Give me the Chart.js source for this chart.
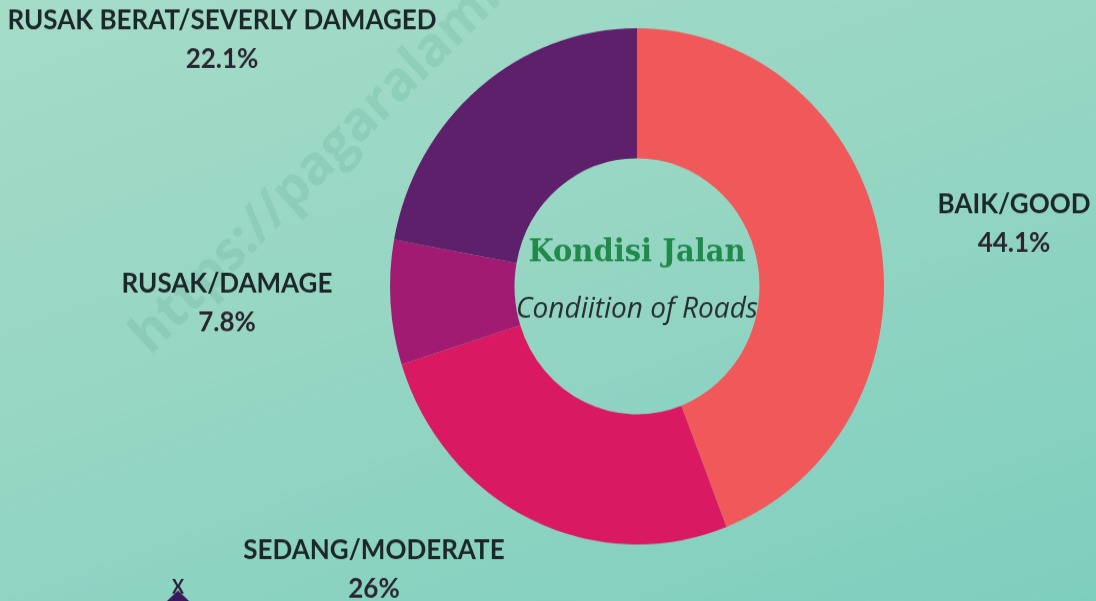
<!DOCTYPE html>
<html>
<head>
<meta charset="utf-8">
<script src="https://cdn.jsdelivr.net/npm/chart.js@4.4.0/dist/chart.umd.min.js"></script>
<style>
  html, body { margin: 0; padding: 0; }
  #wrap {
    width: 1096px; height: 601px; position: relative; overflow: hidden;
    background: linear-gradient(160deg, #a4dcc8 0%, #96d6c3 45%, #7ecebe 100%);
  }
  /* the source picture is a little taller than wide */
  #roadChart { transform: scaleY(1.045); transform-origin: 0 0; }
</style>
</head>
<body>
<div id="wrap"><canvas id="roadChart"></canvas></div>
<script>
// data
var categories = ["BAIK/GOOD", "SEDANG/MODERATE", "RUSAK/DAMAGE", "RUSAK BERAT/SEVERLY DAMAGED"];
var shares = [44.1, 26, 7.8, 22.1];
var sliceColors = ["#f1585a", "#da1963", "#a11b72", "#5e1f6b"];
// where each label sits [x, y of name line]
var labelSpots = [[1014, 196], [374, 527], [227, 272], [222, 20]];

var labelsPlugin = {
  id: "sliceLabels",
  afterDraw: function (chart) {
    var ctx = chart.ctx;
    ctx.save();
    ctx.textAlign = "center";
    ctx.textBaseline = "middle";

    // watermark
    ctx.save();
    ctx.translate(140, 330);
    ctx.rotate(-44 * Math.PI / 180);
    ctx.textAlign = "left";
    ctx.font = "bold 52px 'Open Sans'";
    ctx.fillStyle = "rgba(40, 120, 95, 0.11)";
    ctx.fillText("https://pagaralamkota.go.id", 0, 0);
    ctx.restore();

    categories.forEach(function (name, i) {
      var p = labelSpots[i];
      ctx.fillStyle = "#1d2628";
      ctx.font = "bold 26px Lato";
      ctx.fillText(name, p[0], p[1]);
      ctx.fillStyle = "#2b2530";
      ctx.fillText(shares[i] + "%", p[0], p[1] + 37);
    });

    // centre title
    var cx = (chart.chartArea.left + chart.chartArea.right) / 2;
    ctx.fillStyle = "#1f8a4a";
    ctx.font = "bold 29px 'DejaVu Serif'";
    ctx.fillText("Kondisi Jalan", cx, 242);
    ctx.fillStyle = "#262f2e";
    ctx.font = "italic 28px 'Open Sans'";
    ctx.fillText("Condiition of Roads", cx, 296);

    // small mark at bottom left
    ctx.fillStyle = "#2a1f3d";
    ctx.font = "bold 18px Lato";
    ctx.fillText("X", 178, 562);
    ctx.beginPath();
    ctx.moveTo(166, 576);
    ctx.lineTo(178, 565);
    ctx.lineTo(190, 576);
    ctx.closePath();
    ctx.fillStyle = "#3a1a5c";
    ctx.fill();
    ctx.restore();
  },
};

Chart.defaults.font.family = "Lato";
var roadChart = new Chart(document.getElementById("roadChart"), {
  type: "doughnut",
  data: {
    labels: categories,
    datasets: [
      {
        data: shares,
        backgroundColor: sliceColors,
        borderWidth: 0,
      },
    ],
  },
  options: {
    responsive: true,
    maintainAspectRatio: false,
    animation: false,
    cutout: "49.6%",
    layout: { padding: { left: 390, right: 212, top: 27, bottom: 80 } },
    plugins: { legend: { display: false }, tooltip: { enabled: false } },
  },
  plugins: [labelsPlugin],
});
</script>
</body>
</html>
